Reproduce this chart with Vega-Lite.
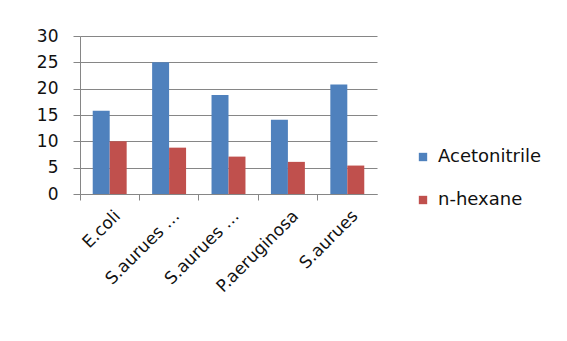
{
  "$schema": "https://vega.github.io/schema/vega-lite/v6.json",
  "width": 297,
  "height": 158,
  "autosize": {"type": "none"},
  "padding": {"left": 80, "top": 36, "right": 190, "bottom": 147},
  "background": "white",
  "data": {
    "values": [
      {"organism": "E.coli", "solvent": "Acetonitrile", "value": 15.8},
      {"organism": "E.coli", "solvent": "n-hexane", "value": 10},
      {"organism": "S.aurues …", "solvent": "Acetonitrile", "value": 25},
      {"organism": "S.aurues …", "solvent": "n-hexane", "value": 8.8},
      {"organism": "S.aurues … ", "solvent": "Acetonitrile", "value": 18.8},
      {"organism": "S.aurues … ", "solvent": "n-hexane", "value": 7.1},
      {"organism": "P.aeruginosa", "solvent": "Acetonitrile", "value": 14.1},
      {"organism": "P.aeruginosa", "solvent": "n-hexane", "value": 6.1},
      {"organism": "S.aurues", "solvent": "Acetonitrile", "value": 20.8},
      {"organism": "S.aurues", "solvent": "n-hexane", "value": 5.4}
    ]
  },
  "config": {
    "view": {"stroke": null},
    "font": "DejaVu Sans"
  },
  "mark": {"type": "bar"},
  "encoding": {
    "x": {
      "field": "organism",
      "type": "nominal",
      "sort": null,
      "scale": {"paddingInner": 0, "paddingOuter": 0},
      "axis": {
        "title": null,
        "labelAngle": -45,
        "labelAlign": "right",
        "labelBaseline": "middle",
        "labelFontSize": 17,
        "labelColor": "#111",
        "labelPadding": 13,
        "labelOffset": 8,
        "bandPosition": 0,
        "tickSize": 6,
        "tickColor": "#868686",
        "domainColor": "#868686"
      }
    },
    "xOffset": {
      "field": "solvent",
      "type": "nominal",
      "scale": {"paddingInner": 0, "paddingOuter": 0.75}
    },
    "y": {
      "field": "value",
      "type": "quantitative",
      "scale": {"domain": [0, 30]},
      "axis": {
        "title": null,
        "values": [0, 5, 10, 15, 20, 25, 30],
        "labelFontSize": 17,
        "labelColor": "#111",
        "tickSize": 7,
        "tickColor": "#868686",
        "gridColor": "#868686",
        "domainColor": "#868686",
        "labelPadding": 15
      }
    },
    "color": {
      "field": "solvent",
      "type": "nominal",
      "scale": {"domain": ["Acetonitrile", "n-hexane"], "range": ["#4F81BD", "#C0504D"]},
      "legend": {
        "title": null,
        "orient": "none",
        "legendX": 334,
        "legendY": 112,
        "symbolType": "square",
        "symbolSize": 70,
        "symbolStrokeWidth": 0,
        "labelFontSize": 18,
        "labelColor": "#111",
        "labelOffset": 6,
        "rowPadding": 25
      }
    }
  }
}
